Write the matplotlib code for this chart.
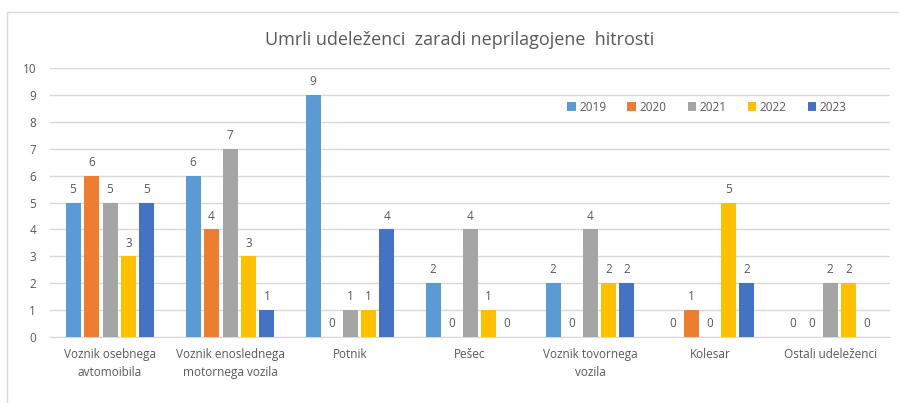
import numpy as np
import matplotlib.pyplot as plt
from matplotlib.patches import Rectangle

categories = ["Voznik osebnega\navtomoibila", "Voznik enoslednega\nmotornega vozila",
              "Potnik", "Pešec", "Voznik tovornega\nvozila", "Kolesar", "Ostali udeleženci"]
years = ["2019", "2020", "2021", "2022", "2023"]
v2019 = [5, 6, 9, 2, 2, 0, 0]
v2020 = [6, 4, 0, 0, 0, 1, 0]
v2021 = [5, 7, 1, 4, 4, 0, 2]
v2022 = [3, 3, 1, 1, 2, 5, 2]
v2023 = [5, 1, 4, 0, 2, 2, 0]
series = [v2019, v2020, v2021, v2022, v2023]
colors = ["#5B9BD5", "#ED7D31", "#A5A5A5", "#FFC000", "#4472C4"]

plt.rcParams['font.family'] = ['Open Sans', 'DejaVu Sans']
txt = "#595959"

fig = plt.figure(figsize=(8.99, 4.03), dpi=100)
ax = fig.add_axes([50/899, 66/403, 840/899, 269/403])

# chart border
fig.patches.append(Rectangle((7/899, -0.1), 1.1, 1 - 12/403 + 0.1, transform=fig.transFigure,
                             fill=False, edgecolor="#D9D9D9", linewidth=1))

x = np.arange(len(categories))
step = 0.154
width = 0.125
for i, (vals, c, y) in enumerate(zip(series, colors, years)):
    pos = x + (i - 2) * step
    ax.bar(pos, vals, width=width, color=c, label=y, zorder=3)
    for p, v in zip(pos, vals):
        ax.text(p, v + 0.25, str(v), ha="center", va="bottom", fontsize=8.5, color=txt)

ax.set_xlim(-0.5, len(categories) - 0.5)
ax.set_ylim(0, 10)
ax.set_yticks(range(0, 11))
ax.set_xticks(x)
ax.set_xticklabels(categories, fontsize=8.5, color=txt, linespacing=1.5)
ax.tick_params(axis="y", labelsize=8.5, labelcolor=txt, length=0, pad=10)
ax.tick_params(axis="x", length=0, pad=8)
ax.grid(axis="y", color="#D9D9D9", linewidth=1, zorder=0)
for s in ["top", "right", "left"]:
    ax.spines[s].set_visible(False)
ax.spines["bottom"].set_color("#D9D9D9")

ax.legend(loc="center", bbox_to_anchor=(0.782, 0.855), ncol=5, frameon=False,
          fontsize=8.5, labelcolor=txt, handlelength=0.7, handleheight=0.7,
          handletextpad=0.3, columnspacing=1.8)

fig.text(460/899, 1 - 40/403, "Umrli udeleženci  zaradi neprilagojene  hitrosti", ha="center",
         va="center", fontsize=13, color=txt)

fig.savefig("out.png", dpi=100)
